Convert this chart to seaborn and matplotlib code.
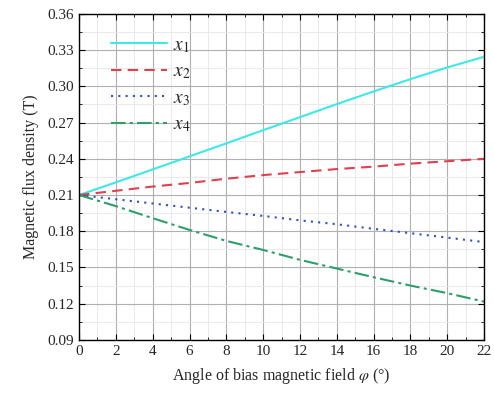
import matplotlib
matplotlib.use('Agg')
import matplotlib.pyplot as plt
import seaborn as sns
import numpy as np
import pandas as pd
from matplotlib.ticker import MultipleLocator

angle = [0, 2, 4, 6, 8, 10, 12, 14, 16, 18, 20, 22]
x1 = [0.210, 0.2205, 0.2312, 0.242, 0.2528, 0.2637, 0.2745, 0.2853, 0.2958, 0.306, 0.3157, 0.3245]
x2 = [0.210, 0.2135, 0.217, 0.220, 0.2235, 0.2265, 0.229, 0.2315, 0.2335, 0.236, 0.238, 0.240]
x3 = [0.210, 0.2065, 0.203, 0.1995, 0.196, 0.1927, 0.189, 0.1858, 0.182, 0.1784, 0.1747, 0.171]
x4 = [0.210, 0.2008, 0.1908, 0.1811, 0.172, 0.1645, 0.1563, 0.1491, 0.1419, 0.135, 0.1287, 0.1217]

series = {'$x_1$': x1, '$x_2$': x2, '$x_3$': x3, '$x_4$': x4}
colors = ['#3DE8E8', '#E0404E', '#3050C8', '#2E9E6A']
styles = ['-', (0, (5, 3)), (0, (1, 2.5)), (0, (7, 2, 1.5, 2))]

sns.set_style('ticks')
plt.rcParams['font.family'] = ['Liberation Serif', 'DejaVu Serif']
plt.rcParams['mathtext.fontset'] = 'stix'

fig, ax = plt.subplots(figsize=(4.94, 3.98), dpi=100)
fig.subplots_adjust(left=0.16, right=0.98, bottom=0.146, top=0.965)

for (name, vals), c, ls in zip(series.items(), colors, styles):
    df = pd.DataFrame({'angle': angle, 'B': vals})
    sns.lineplot(data=df, x='angle', y='B', ax=ax, color=c, label=name, linewidth=1.5)
    ax.lines[-1].set_linestyle(ls)

ax.set_xlim(0, 22)
ax.set_ylim(0.09, 0.36)
ax.xaxis.set_major_locator(MultipleLocator(2))
ax.xaxis.set_minor_locator(MultipleLocator(1))
ax.yaxis.set_major_locator(MultipleLocator(0.03))
ax.yaxis.set_minor_locator(MultipleLocator(0.015))
ax.yaxis.set_major_formatter(matplotlib.ticker.FormatStrFormatter('%.2f'))
ax.grid(which='major', color='#b0b0b0', linewidth=0.8)
ax.grid(which='minor', color='#e6e6e6', linewidth=0.6)
ax.set_axisbelow(True)
ax.tick_params(which='both', direction='in', top=True, right=True, labelsize=11, color='black')
ax.tick_params(which='major', length=4)
ax.tick_params(which='minor', length=2)
for s in ax.spines.values():
    s.set_color('black')
    s.set_linewidth(1)

ax.set_xlabel('Angle of bias magnetic field $\\varphi$ (°)', fontsize=11.5, labelpad=6)
ax.set_ylabel('Magnetic flux density (T)', fontsize=11.5, labelpad=6)

leg = ax.legend(loc='upper left', bbox_to_anchor=(0.035, 0.985), frameon=False, fontsize=14,
                handlelength=2.9, handletextpad=0.3, labelspacing=0.42)

fig.savefig('out.png', dpi=100)
